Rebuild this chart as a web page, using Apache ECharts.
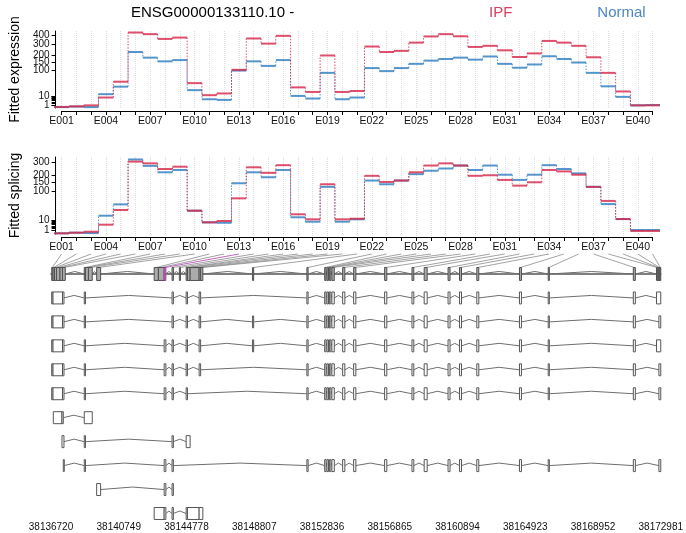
<!DOCTYPE html>
<html><head><meta charset="utf-8">
<script src="https://cdn.jsdelivr.net/npm/echarts@6/dist/echarts.min.js"></script>
<style>html,body{margin:0;padding:0;background:#fff}#c{width:686px;height:533px}</style>
</head><body><div id="c"></div>
<script>
// ---------- data ----------
const exonIds = ['E001','E002','E003','E004','E005','E006','E007','E008','E009','E010',
  'E011','E012','E013','E014','E015','E016','E017','E018','E019','E020',
  'E021','E022','E023','E024','E025','E026','E027','E028','E029','E030',
  'E031','E032','E033','E034','E035','E036','E037','E038','E039','E040','E041'];
const exprIPF = [0.35,0.5,0.85,7.5,46, 430,410,355,370,41, 11,14,100,360,305, 390,28,17,197,17,
  19,276,226,236,315, 383,410,385,272,283, 241,185,214,333,315, 283,183,84,18,0.85,0.85];
const exprNormal = [0.3,0.45,0.3,12.7,30, 226,180,153,162,21, 5.4,4.7,96,153,123, 162,9.8,6.2,84,5.4,
  7.5,110,93,110,136, 158,170,180,165,189, 136,112,132,191,170, 145,84,31,8.4,0.85,1.0];
const splIPF = [0.25,0.38,0.65,5.0,30.6, 310,294,246,265,28.8, 7.5,9.2,69,260,216, 278,20.6,11.6,139,11.6,
  12.5,194,153,162,220, 275,294,275,194,198, 166,131,151,238,227, 202,124,59,12,0.9,0.9];
const splNormal = [0.25,0.38,0.3,17.8,47, 330,272,220,238,28.8, 7.5,7.0,145,220,184, 238,14.9,8.3,124,8.3,
  11.6,162,139,162,206, 232,250,275,238,275, 202,166,202,278,246, 212,124,48,12,1.3,1.3];
const exprTicks = [1,10,100,150,200,300,400];
const splTicks = [1,10,100,150,200,300];
const minorTicks = [1,2,3,4,5,6,7,8,9,10];
const genomicTicks = [38136720,38140749,38144778,38148807,38152836,38156865,38160894,38164923,38168952,38172981];
const significantExons = ['E013'];
// exonic parts (genomic start, end) in order E001..E041
const exonParts = [
  [38136762,38136839],[38136839,38136928],[38136928,38137047],[38137047,38137255],[38137255,38137403],
  [38137403,38137569],[38138698,38138769],[38138769,38138948],[38138948,38139173],[38139435,38139672],
  [38142856,38143106],[38143106,38143450],[38143450,38143551],[38143919,38143997],[38144353,38144418],
  [38144757,38144834],[38144834,38144994],[38144994,38145529],[38145529,38145618],[38145618,38145749],
  [38148707,38148772],[38151938,38152010],[38152996,38153079],[38153132,38153221],[38153275,38153364],
  [38153423,38153566],[38154065,38154195],[38154718,38154849],[38156560,38156690],[38158187,38158294],
  [38158912,38159090],[38160332,38160450],[38161015,38161133],[38162042,38162161],[38164579,38164697],
  [38166289,38166355],[38171350,38171469],[38172728,38172811],[38172811,38172871],[38172871,38172930],
  [38172930,38172981]];
// transcript models (exon start, end)
const tailExons = [[38151938,38152010],[38152996,38153079],[38153132,38153221],[38153275,38153364],[38153423,38153566],
  [38154065,38154195],[38154718,38154849],[38156560,38156690],[38158187,38158294],[38158912,38159090],
  [38160332,38160450],[38161015,38161133],[38162042,38162161],[38164579,38164697],[38166289,38166355],[38171350,38171469]];
const headExons = [[38136762,38136839],[38136839,38137403],[38137403,38137492],[38138698,38138769]];
const transcripts = [
  [...headExons, [38143919,38143997],[38144757,38144834],[38145529,38145618], ...tailExons, [38172728,38172981]],
  [...headExons, [38143919,38143997],[38144757,38144834],[38145529,38145618],[38148707,38148772], ...tailExons, [38172871,38172981]],
  [...headExons, [38143450,38143551],[38143919,38143997],[38144757,38144834],[38145529,38145618],[38148707,38148772], ...tailExons, [38172728,38172981]],
  [...headExons, [38143450,38143551],[38143919,38143997],[38144757,38144834],[38145529,38145618], ...tailExons, [38172871,38172981]],
  [...headExons, [38143450,38143551],[38143919,38143997],[38144757,38144834], ...tailExons, [38172871,38172981]],
  [[38136857,38137373],[38137373,38137451],[38138698,38139173]],
  [[38137373,38137492],[38138698,38138769],[38143919,38143997],[38144757,38144994]],
  [[38137451,38137510],[38138698,38138769],[38143450,38143551],[38143919,38143997], ...tailExons, [38172871,38172981]],
  [[38139435,38139672],[38143450,38143551],[38143919,38143997]],
  [[38142856,38143450],[38143450,38143551],[38143919,38143997],[38144757,38144834],[38144834,38145529],[38145529,38145749]]
];

// ---------- styling ----------
const FONT = "'Liberation Sans', Arial, Helvetica, sans-serif";
const RED = 'rgba(214,40,74,0.82)';
const BLUE = 'rgba(48,126,192,0.82)';
const P = 0.45;
const tf = v => Math.pow(v, P);
const inv = t => Math.pow(t, 1 / P);

const chart = echarts.init(document.getElementById('c'), null, {renderer: 'canvas'});

function stepSeries(name, values, idx, color, z) {
  return {
    type: 'custom', name, xAxisIndex: idx, yAxisIndex: idx, clip: false, z,
    data: values.map((v, i) => [i, tf(v), tf(i > 0 ? values[i - 1] : v)]),
    encode: {x: 0, y: 1},
    renderItem(params, api) {
      const i = api.value(0);
      const p = api.coord([i, api.value(1)]);
      const bw = api.size([1, 0])[0];
      const ch = [{type: 'line', shape: {x1: p[0] - bw / 2, y1: p[1], x2: p[0] + bw / 2, y2: p[1]},
        style: {stroke: color, lineWidth: 2}}];
      if (i > 0) {
        const q = api.coord([i, api.value(2)]);
        ch.push({type: 'line', shape: {x1: p[0] - bw / 2, y1: q[1], x2: p[0] - bw / 2, y2: p[1]},
          style: {stroke: color, lineWidth: 1, lineDash: [1.5, 1.5]}});
      }
      return {type: 'group', children: ch};
    }
  };
}

function catAxis(gi) {
  return {type: 'category', gridIndex: gi, data: exonIds, boundaryGap: false, offset: 3,
    axisLine: {lineStyle: {color: '#000', width: 1}},
    axisTick: {interval: 0, length: 4, lineStyle: {color: '#000'}},
    axisLabel: {interval: 2, fontSize: 10.5, color: '#111', margin: 5, fontFamily: FONT},
    splitLine: {show: true, interval: 0, lineStyle: {color: '#dcdcdc', type: 'dotted', width: 1}}};
}
function valAxis(gi, min, max, ticks, name) {
  const labelVals = [min].concat(ticks.map(tf), [max]);
  return {type: 'value', gridIndex: gi, min, max, offset: 6,
    axisLine: {show: true, lineStyle: {color: '#000'}},
    axisTick: {show: true, length: 4, lineStyle: {color: '#000'}, customValues: minorTicks.concat(ticks).map(tf)},
    axisLabel: {customValues: labelVals,
      formatter: v => {
        const r = inv(v);
        const m = ticks.find(t => Math.abs(t - r) < 1e-6 * t);
        return m !== undefined ? String(m) : '';
      },
      fontSize: 10, color: '#111', margin: 6, fontFamily: FONT, hideOverlap: false},
    splitLine: {show: false},
    name, nameLocation: 'middle', nameGap: 31, nameRotate: 90,
    nameTextStyle: {fontSize: 14, color: '#000', fontFamily: FONT}};
}

// gene-model data
const unionData = exonParts.map((p, i) => [p[0], p[1], 0, significantExons.indexOf(exonIds[i]) >= 0 ? 1 : 0]);
const txData = [];
const intronData = [];
transcripts.forEach((tx, k) => {
  tx.forEach((e, j) => {
    txData.push([e[0], e[1], k + 1, 0]);
    if (j > 0 && e[0] > tx[j - 1][1]) intronData.push([tx[j - 1][1], e[0], k + 1]);
  });
});
exonParts.forEach((e, j) => {
  if (j > 0 && e[0] > exonParts[j - 1][1]) intronData.push([exonParts[j - 1][1], e[0], 0]);
});

const option = {
  animation: false,
  textStyle: {fontFamily: FONT},
  title: {text: 'ENSG00000133110.10 -', left: 131, top: 5, padding: 0,
    textStyle: {fontSize: 15, fontWeight: 'normal', color: '#000', fontFamily: FONT}},
  legend: {data: [{name: 'IPF', textStyle: {color: '#D8405F'}}, {name: 'Normal', textStyle: {color: '#4D86C2'}}],
    icon: 'none', itemWidth: 0, itemGap: 80, left: 484, top: 5, padding: 0, selectedMode: false,
    textStyle: {fontSize: 15, fontFamily: FONT}},
  grid: [
    {left: 57.44, right: 33.44, top: 31, height: 77},
    {left: 57.44, right: 33.44, top: 157, height: 77},
    {left: 51, right: 24.5, top: 263, height: 256}
  ],
  xAxis: [catAxis(0), catAxis(1),
    {type: 'value', gridIndex: 2, min: 38136720, max: 38172981,
      axisLine: {lineStyle: {color: '#555', width: 1.5}}, axisTick: {show: false},
      axisLabel: {customValues: genomicTicks, formatter: v => String(Math.round(v)), fontSize: 10, color: '#111',
        margin: 3, fontFamily: FONT, showMinLabel: true, showMaxLabel: true},
      splitLine: {show: false}}],
  yAxis: [valAxis(0, 0.408, 15.61, exprTicks, 'Fitted expression'),
    valAxis(1, 0.417, 14.03, splTicks, 'Fitted splicing'),
    {type: 'value', gridIndex: 2, min: -0.459, max: 10.23, inverse: true, show: false}],
  series: [
    stepSeries('Normal', exprNormal, 0, BLUE, 2),
    stepSeries('IPF', exprIPF, 0, RED, 3),
    stepSeries('Normal', splNormal, 1, BLUE, 2),
    stepSeries('IPF', splIPF, 1, RED, 3),
    {type: 'custom', name: 'connectors', xAxisIndex: 2, yAxisIndex: 2, clip: false, z: 1,
      data: exonParts.map((p, i) => [p[0], p[1], i, significantExons.indexOf(exonIds[i]) >= 0 ? 1 : 0]),
      renderItem(params, api) {
        const mid = (api.value(0) + api.value(1)) / 2;
        const b = api.coord([mid, 0]);
        const h = api.size([0, 0.54])[1];
        const topY = api.coord([mid, -0.835])[1];
        const topX = chart.convertToPixel({xAxisIndex: 1}, api.value(2));
        if (topX == null || isNaN(topX)) return null;
        return {type: 'line', shape: {x1: topX, y1: topY, x2: b[0], y2: b[1] - h / 2},
          style: {stroke: api.value(3) ? '#B43CB4' : '#8c8c8c', lineWidth: 0.8}};
      }},
    {type: 'custom', name: 'introns', xAxisIndex: 2, yAxisIndex: 2, clip: false, z: 2,
      data: intronData,
      renderItem(params, api) {
        const a = api.coord([api.value(0), api.value(2)]);
        const b = api.coord([api.value(1), api.value(2)]);
        return {type: 'polyline', shape: {points: [[a[0], a[1]], [(a[0] + b[0]) / 2, a[1] - 2.5], [b[0], b[1]]]},
          style: {stroke: '#6e6e6e', lineWidth: 1, fill: null}};
      }},
    {type: 'custom', name: 'transcripts', xAxisIndex: 2, yAxisIndex: 2, clip: false, z: 3,
      data: txData,
      renderItem(params, api) {
        const a = api.coord([api.value(0), api.value(2)]);
        const b = api.coord([api.value(1), api.value(2)]);
        const h = api.size([0, 0.5])[1];
        return {type: 'rect', shape: {x: a[0], y: a[1] - h / 2, width: Math.max(b[0] - a[0], 0.8), height: h},
          style: {fill: '#ffffff', stroke: '#555', lineWidth: 1}};
      }},
    {type: 'custom', name: 'union', xAxisIndex: 2, yAxisIndex: 2, clip: false, z: 3,
      data: unionData,
      renderItem(params, api) {
        const a = api.coord([api.value(0), api.value(2)]);
        const b = api.coord([api.value(1), api.value(2)]);
        const h = api.size([0, 0.54])[1];
        return {type: 'rect', shape: {x: a[0], y: a[1] - h / 2, width: Math.max(b[0] - a[0], 0.8), height: h},
          style: {fill: '#ababab', stroke: api.value(3) ? '#A030A0' : '#505050', lineWidth: 1}};
      }}
  ]
};
chart.setOption(option);
</script>
</body></html>
